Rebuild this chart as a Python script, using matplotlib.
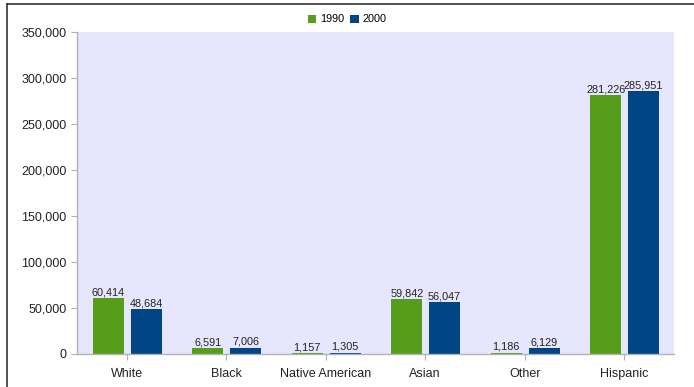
import matplotlib
matplotlib.use("Agg")
import matplotlib.pyplot as plt
import numpy as np
from matplotlib.ticker import FuncFormatter
from matplotlib.lines import Line2D

categories = ["White", "Black", "Native American", "Asian", "Other", "Hispanic"]
pop_1990 = [60414, 6591, 1157, 59842, 1186, 281226]
pop_2000 = [48684, 7006, 1305, 56047, 6129, 285951]
series_labels = ["1990", "2000"]

green = "#579D1C"
blue = "#004586"

plt.rcParams["font.family"] = ["Liberation Sans", "DejaVu Sans"]

fig = plt.figure(figsize=(6.94, 3.87), dpi=100)
ax = fig.add_axes([77 / 694, 1 - 354 / 387, (674 - 77) / 694, (354 - 32) / 387])
ax.set_facecolor("#E6E6FF")

x = np.arange(len(categories))
w = 0.31
b1 = ax.bar(x - 0.185, pop_1990, w, color=green, label=series_labels[0])
b2 = ax.bar(x + 0.195, pop_2000, w, color=blue, label=series_labels[1])

for bars, vals in ((b1, pop_1990), (b2, pop_2000)):
    for r, v in zip(bars, vals):
        ax.text(r.get_x() + r.get_width() / 2, v + 1000, f"{v:,}",
                ha="center", va="bottom", fontsize=7.8, color="#222222")

ax.set_xlim(-0.5, len(categories) - 0.5)
ax.set_ylim(0, 350000)
ax.set_yticks(np.arange(0, 350001, 50000))
ax.yaxis.set_major_formatter(FuncFormatter(lambda v, p: f"{int(v):,}"))
ax.set_xticks(x)
ax.set_xticklabels(categories)
ax.tick_params(axis="both", colors="#B3B3B3", labelcolor="#222222",
               labelsize=9, length=4, width=0.8)
ax.tick_params(axis="x", pad=6)

for s in ("top", "right"):
    ax.spines[s].set_visible(False)
for s in ("left", "bottom"):
    ax.spines[s].set_color("#B3B3B3")
    ax.spines[s].set_linewidth(1.0)

leg = fig.legend(handles=[b1, b2], labels=series_labels, loc="upper center",
                 bbox_to_anchor=(0.5, 1 - 9 / 387), ncol=2, frameon=False,
                 fontsize=7.8, handlelength=0.8, handleheight=0.8,
                 handletextpad=0.3, columnspacing=0.6, borderpad=0)

# outer frame lines (left and top)
fig.add_artist(Line2D([6.5 / 694, 6.5 / 694], [0, 1 - 4 / 387],
                      transform=fig.transFigure, color="#333333", lw=1.2))
fig.add_artist(Line2D([6.5 / 694, 1], [1 - 4 / 387, 1 - 4 / 387],
                      transform=fig.transFigure, color="#333333", lw=1.2))

fig.savefig("out.png", dpi=100)
